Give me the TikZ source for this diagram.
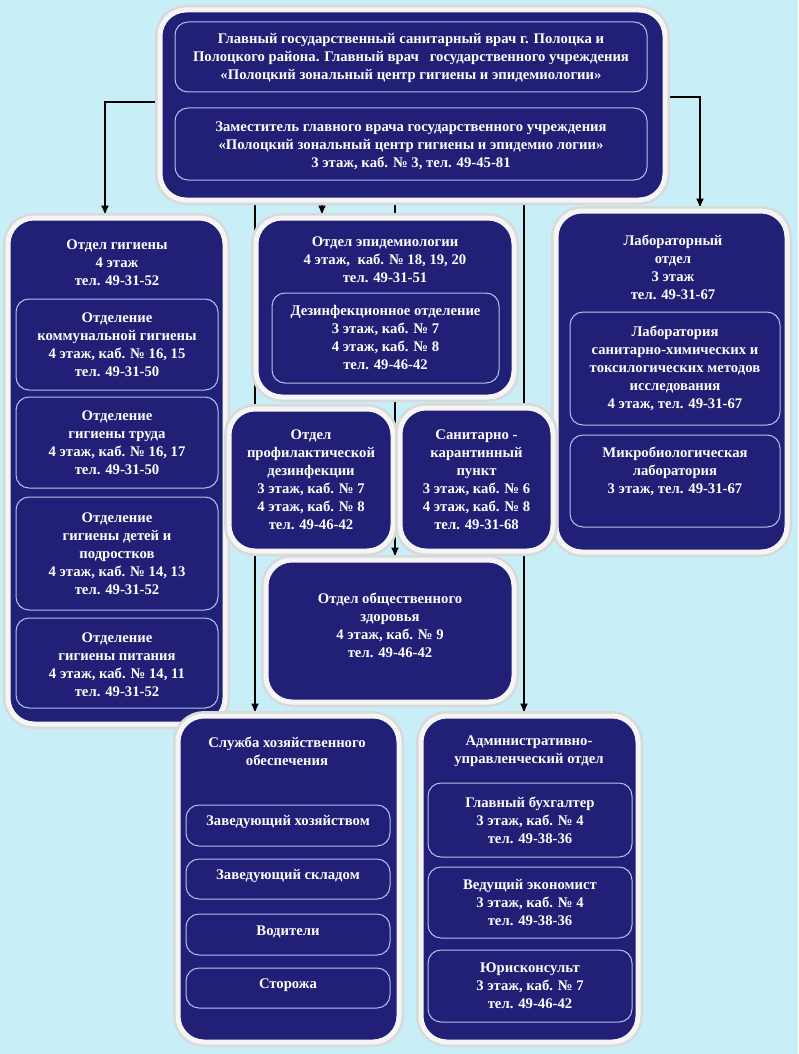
\documentclass[tikz,border=0pt]{standalone}
\usepackage{fontspec}
\setmainfont{Liberation Serif}
\usetikzlibrary{fit,arrows.meta}

\definecolor{sky}{RGB}{200,238,248}
\definecolor{navy}{RGB}{33,31,118}
\definecolor{rim}{RGB}{175,198,236}

\pgfdeclarelayer{bg}
\pgfdeclarelayer{lines}
\pgfsetlayers{bg,lines,main}

\newcommand\lbl{\fontsize{14.7}{18}\selectfont\bfseries}

\tikzset{
  outer/.style={rounded corners=26pt, fill=navy, draw=white!92!gray, line width=5pt, inner sep=2pt,
    preaction={draw=black!15, line width=10pt}},
  inbox/.style={rounded corners=13pt, draw=rim, line width=1pt, inner sep=0pt},
  lbl/.style={text=white, font=\lbl, align=center, inner sep=0pt},
  conn/.style={line width=2.4pt, black},
  arr/.style={conn, -{Latex[length=10pt,width=8pt]}}
}

\begin{document}
\begin{tikzpicture}[x=1pt, y=-1pt]
  \begin{pgfonlayer}{bg}
    \fill[sky] (0,0) rectangle (798,1054);
  \end{pgfonlayer}
  \useasboundingbox (0,0) rectangle (798,1054);

  % head office
  \node[outer, fit={(162,12) (663,198)}] (top) {};
  \node[inbox, fit={(175,22) (647,92)}] (chief) {};
  \node[lbl] (chieft) at ([yshift=-1pt]chief) {Главный государственный санитарный врач г. Полоцка и\\
    Полоцкого района. Главный врач~~~государственного учреждения\\
    «Полоцкий зональный центр гигиены и эпидемиологии»};
  \node[inbox, fit={(175,108) (647,180)}] (deputy) {};
  \node[lbl] (deputyt) at ([yshift=-2pt]deputy) {Заместитель главного врача государственного учреждения\\
    «Полоцкий зональный центр гигиены и эпидемио логии»\\
    3 этаж, каб. № 3, тел. 49-45-81};

  % hygiene
  \node[outer, fit={(10,220) (223,722)}] (hyg) {};
  \node[lbl] (hygt) at (117,263) {Отдел гигиены\\4 этаж\\тел. 49-31-52};
  \node[inbox, fit={(16,299) (218,390)}] (comm) {};
  \node[lbl] (commt) at (comm) {Отделение\\коммунальной гигиены\\4 этаж, каб. № 16, 15\\тел. 49-31-50};
  \node[inbox, fit={(16,397) (218,488)}] (labour) {};
  \node[lbl] (labourt) at (labour) {Отделение\\гигиены труда\\4 этаж, каб. № 16, 17\\тел. 49-31-50};
  \node[inbox, fit={(16,497) (218,610)}] (kids) {};
  \node[lbl] (kidst) at (kids) {Отделение\\гигиены детей и\\подростков\\4 этаж, каб. № 14, 13\\тел. 49-31-52};
  \node[inbox, fit={(16,618) (218,708)}] (food) {};
  \node[lbl] (foodt) at ([yshift=-2pt]food) {Отделение\\гигиены питания\\4 этаж, каб. № 14, 11\\тел. 49-31-52};

  % epidemiology
  \node[outer, fit={(258,220) (512,395)}] (epid) {};
  \node[lbl] (epidt) at (385,260) {Отдел эпидемиологии\\4 этаж,~ каб. № 18, 19, 20\\тел. 49-31-51};
  \node[inbox, fit={(272,293) (499,383)}] (dis) {};
  \node[lbl] (dist) at (dis) {Дезинфекционное отделение\\3 этаж, каб. № 7\\4 этаж, каб. № 8\\тел. 49-46-42};

  % laboratory
  \node[outer, fit={(558,213) (785,550)}] (lab) {};
  \node[lbl] (labt) at (673,267) {Лабораторный\\отдел\\3 этаж\\тел. 49-31-67};
  \node[inbox, fit={(570,312) (780,425)}] (chem) {};
  \node[lbl] (chemt) at (chem) {Лаборатория\\санитарно-химических и\\токсилогических методов\\исследования\\4 этаж, тел. 49-31-67};
  \node[inbox, fit={(570,435) (780,527)}] (micro) {};
  \node[lbl] (microt) at (675,471) {Микробиологическая\\лаборатория\\3 этаж, тел. 49-31-67};

  % middle row
  \node[outer, fit={(231,411) (391,549)}] (prof) {};
  \node[lbl] (proft) at (prof) {Отдел\\профилактической\\дезинфекции\\3 этаж, каб. № 7\\4 этаж, каб. № 8\\тел. 49-46-42};
  \node[outer, fit={(402,410) (551,549)}] (san) {};
  \node[lbl] (sant) at (san) {Санитарно -\\карантинный\\пункт\\3 этаж, каб. № 6\\4 этаж, каб. № 8\\тел. 49-31-68};
  \node[outer, fit={(268,562) (512,700)}] (pub) {};
  \node[lbl] (pubt) at (390,625) {Отдел общественного\\здоровья\\4 этаж, каб. № 9\\тел. 49-46-42};

  % services
  \node[outer, fit={(180,718) (397,1040)}] (hoz) {};
  \node[lbl] (hozt) at (287,751) {Служба хозяйственного\\обеспечения};
  \node[inbox, fit={(186,805) (390,846)}] (keeper) {};
  \node[lbl] (keepert) at ([yshift=3pt]keeper) {Заведующий хозяйством};
  \node[inbox, fit={(186,859) (390,899)}] (store) {};
  \node[lbl] (storet) at ([yshift=3pt]store) {Заведующий складом};
  \node[inbox, fit={(186,914) (390,955)}] (drivers) {};
  \node[lbl] (driverst) at ([yshift=3pt]drivers) {Водители};
  \node[inbox, fit={(186,968) (390,1008)}] (guards) {};
  \node[lbl] (guardst) at ([yshift=3pt]guards) {Сторожа};

  \node[outer, fit={(423,718) (636,1040)}] (adm) {};
  \node[lbl] (admt) at (529,751) {Административно-\\управленческий отдел};
  \node[inbox, fit={(428,783) (632,857)}] (acc) {};
  \node[lbl] (acct) at (acc) {Главный бухгалтер\\3 этаж, каб. № 4\\тел. 49-38-36};
  \node[inbox, fit={(428,867) (632,938)}] (eco) {};
  \node[lbl] (ecot) at (eco) {Ведущий экономист\\3 этаж, каб. № 4\\тел. 49-38-36};
  \node[inbox, fit={(428,950) (632,1022)}] (law) {};
  \node[lbl] (lawt) at (law) {Юрисконсульт\\3 этаж, каб. № 7\\тел. 49-46-42};

  % connectors
  \coordinate (epiin) at ([xshift=-63pt]epid.north);
  \coordinate (hozin) at ([xshift=-33.5pt]hoz.north);
  \coordinate (pubin) at ([xshift=5pt]pub.north);
  \coordinate (admin) at ([xshift=-5.5pt]adm.north);
  \begin{pgfonlayer}{lines}
    \draw[arr] ([yshift=3pt]top.west) -| ([xshift=-11.5pt]hyg.north);
    \draw[arr] ([yshift=8pt]top.east) -| ([xshift=28.5pt]lab.north);
    \draw[arr] (top.south -| epiin) -- (epiin);
    \draw[arr] (top.south -| hozin) -- (hozin);
    \draw[arr] (top.south -| pubin) -- (pubin);
    \draw[arr] (top.south -| admin) -- (admin);
  \end{pgfonlayer}
\end{tikzpicture}
\end{document}
